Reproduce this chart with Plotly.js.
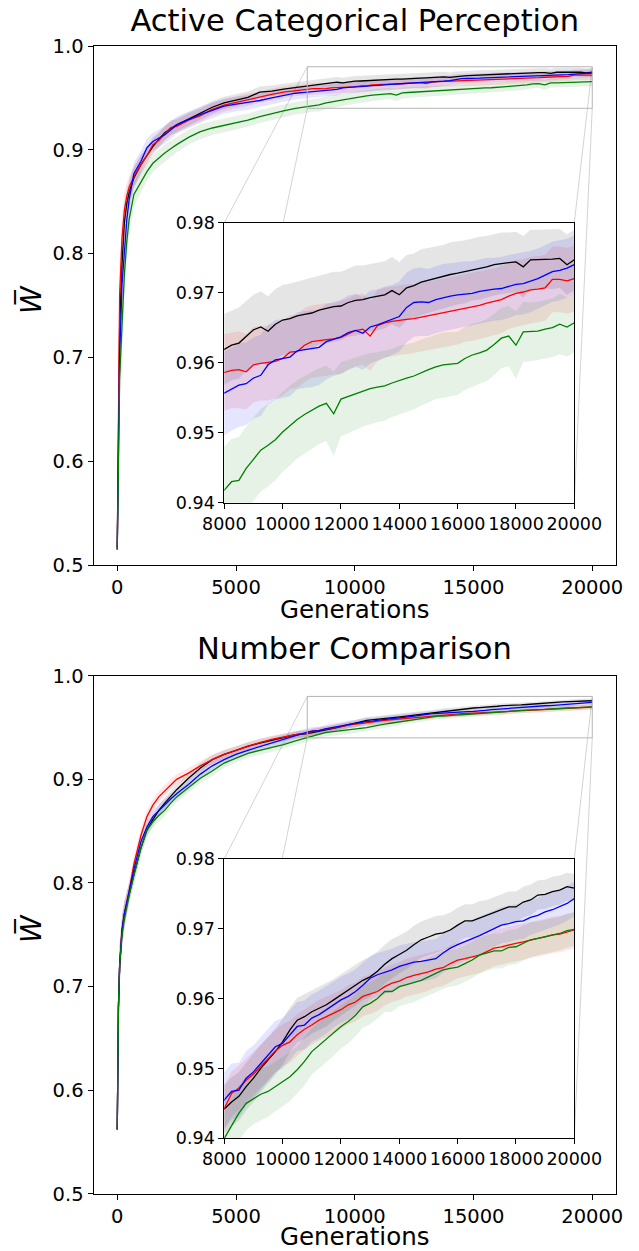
<!DOCTYPE html>
<html><head><meta charset="utf-8">
<script src="https://cdn.plot.ly/plotly-3.0.1.min.js"></script>
<style>html,body{margin:0;padding:0;background:#fff}#chart{width:639px;height:1251px}</style>
</head><body><div id="chart"></div>
<script>
// ---------- data ----------
const gens = [0,50,100,200,300,400,500,700,1000,1250,1500,1750,2000,2250,2500,3000,3500,4000,4500,5000,5500,6000,6500,7000,7500,
8000,8250,8500,8750,9000,9250,9500,9750,10000,10250,10500,10750,11000,11250,11500,11750,12000,
12250,12500,12750,13000,13250,13500,13750,14000,14250,14500,14750,15000,15250,15500,15750,16000,
16250,16500,16750,17000,17250,17500,17750,18000,18250,18500,18750,19000,19250,19500,19750,20000];

// Active Categorical Perception
const acpBlack = [0.517,0.65,0.73,0.79,0.83,0.848,0.859,0.873,0.886,0.8945,0.903,0.910,0.9165,0.9205,0.924,0.9295,0.935,0.941,0.9452,0.948,0.9505,0.9555,0.9565,0.9585,0.960,
0.9619,0.9625,0.9628,0.9638,0.9647,0.9651,0.9645,0.9655,0.9661,0.9663,0.9667,0.9669,0.9671,0.9675,0.9678,0.9680,0.9681,
0.9686,0.9689,0.9690,0.9693,0.9695,0.9697,0.9703,0.9697,0.9707,0.9710,0.9715,0.9718,0.9720,0.9723,0.9726,0.9728,
0.9730,0.9733,0.9735,0.9737,0.9740,0.9742,0.9743,0.9744,0.9737,0.9747,0.9747,0.9748,0.9748,0.9749,0.9740,0.9747];
const acpRed = [0.515,0.68,0.76,0.815,0.842,0.855,0.864,0.874,0.886,0.8945,0.905,0.909,0.915,0.9215,0.9225,0.9285,0.933,0.939,0.943,0.9458,0.948,0.951,0.9535,0.9555,0.957,
0.9586,0.9589,0.9590,0.9587,0.9597,0.9599,0.9600,0.9602,0.9606,0.9615,0.9616,0.9625,0.9630,0.9632,0.9633,0.9634,0.9636,
0.9641,0.9646,0.9648,0.9638,0.9653,0.9657,0.9659,0.9661,0.9662,0.9663,0.9665,0.9667,0.9669,0.9671,0.9673,0.9675,
0.9678,0.9680,0.9682,0.9685,0.9687,0.9690,0.9695,0.9699,0.9701,0.9704,0.9705,0.9707,0.9719,0.9719,0.9717,0.9720];
const acpBlue = [0.515,0.62,0.70,0.77,0.805,0.832,0.852,0.877,0.889,0.902,0.908,0.911,0.9145,0.919,0.924,0.929,0.934,0.938,0.942,0.944,0.9455,0.9475,0.950,0.9525,0.9545,
0.9556,0.9562,0.9568,0.9570,0.9578,0.9582,0.9597,0.9604,0.9606,0.9608,0.9617,0.9619,0.9620,0.9622,0.9630,0.9634,0.9637,
0.9643,0.9646,0.9642,0.9651,0.9654,0.9658,0.9661,0.9666,0.9679,0.9686,0.9687,0.9686,0.9690,0.9693,0.9695,0.9697,
0.9698,0.9699,0.9702,0.9704,0.9705,0.9706,0.9709,0.9712,0.9713,0.9716,0.9720,0.9725,0.9730,0.9732,0.9735,0.9740];
const acpGreen = [0.515,0.62,0.68,0.73,0.78,0.811,0.833,0.857,0.869,0.879,0.887,0.892,0.897,0.901,0.905,0.912,0.9175,0.921,0.9235,0.926,0.9285,0.932,0.935,0.9375,0.940,
0.9418,0.9430,0.9432,0.9449,0.9462,0.9475,0.9482,0.9490,0.9501,0.9510,0.9519,0.9526,0.9532,0.9538,0.9542,0.9527,0.9548,
0.9552,0.9556,0.9560,0.9563,0.9565,0.9567,0.9571,0.9575,0.9578,0.9581,0.9586,0.9590,0.9594,0.9597,0.9598,0.9599,
0.9606,0.9611,0.9614,0.9618,0.9626,0.9635,0.9638,0.9625,0.9644,0.9644,0.9645,0.9648,0.9650,0.9655,0.9651,0.9657];

const acpBlackSd = [0.004,0.03,0.03,0.025,0.018,0.014,0.012,0.01,0.009,0.008,0.0075,0.007,0.007,0.007,0.0065,0.0065,0.006,0.006,0.006,0.0058,0.0056,0.0055,0.0054,0.0052,0.0051,
0.0051,0.0050,0.0051,0.0050,0.0050,0.0051,0.0050,0.0050,0.0050,0.0050,0.0049,0.0050,0.0050,0.0049,0.0050,0.0050,0.0049,
0.0049,0.0050,0.0049,0.0048,0.0049,0.0048,0.0048,0.0047,0.0047,0.0046,0.0047,0.0046,0.0046,0.0045,0.0046,0.0045,
0.0045,0.0044,0.0045,0.0044,0.0044,0.0044,0.0043,0.0043,0.0044,0.0043,0.0043,0.0042,0.0043,0.0042,0.0043,0.0043];
const acpRedSd = [0.004,0.03,0.03,0.022,0.016,0.013,0.011,0.01,0.009,0.008,0.0075,0.007,0.007,0.007,0.0065,0.0065,0.0062,0.006,0.006,0.0058,0.0057,0.0056,0.0055,0.0055,0.0054,
0.0055,0.0054,0.0055,0.0054,0.0054,0.0053,0.0054,0.0053,0.0053,0.0053,0.0052,0.0053,0.0052,0.0052,0.0052,0.0051,0.0052,
0.0051,0.0051,0.0051,0.0050,0.0051,0.0050,0.0050,0.0050,0.0050,0.0049,0.0050,0.0049,0.0049,0.0049,0.0049,0.0049,
0.0048,0.0049,0.0048,0.0048,0.0048,0.0048,0.0047,0.0048,0.0047,0.0047,0.0047,0.0047,0.0047,0.0047,0.0047,0.0047];
const acpBlueSd = [0.004,0.035,0.035,0.03,0.022,0.017,0.014,0.011,0.01,0.009,0.0085,0.0085,0.0085,0.0085,0.008,0.008,0.0078,0.0075,0.0072,0.007,0.0068,0.0066,0.0064,0.0062,0.0061,
0.0060,0.0059,0.0060,0.0059,0.0058,0.0058,0.0057,0.0057,0.0056,0.0056,0.0055,0.0055,0.0055,0.0054,0.0054,0.0053,0.0053,
0.0053,0.0052,0.0052,0.0052,0.0051,0.0051,0.0050,0.0050,0.0050,0.0049,0.0049,0.0048,0.0048,0.0048,0.0047,0.0047,
0.0047,0.0046,0.0046,0.0046,0.0045,0.0045,0.0045,0.0044,0.0044,0.0044,0.0043,0.0043,0.0043,0.0043,0.0042,0.0042];
const acpGreenSd = [0.004,0.03,0.03,0.028,0.022,0.018,0.015,0.012,0.01,0.009,0.0085,0.008,0.008,0.0078,0.0075,0.0072,0.007,0.0068,0.0066,0.0065,0.0064,0.0063,0.0062,0.0061,0.006,
0.0062,0.0061,0.0062,0.0060,0.0060,0.0059,0.0059,0.0058,0.0057,0.0057,0.0056,0.0055,0.0055,0.0054,0.0054,0.0060,0.0053,
0.0052,0.0052,0.0051,0.0051,0.0050,0.0050,0.0049,0.0049,0.0048,0.0048,0.0047,0.0047,0.0046,0.0046,0.0046,0.0045,
0.0045,0.0045,0.0044,0.0044,0.0044,0.0043,0.0043,0.0048,0.0043,0.0042,0.0042,0.0042,0.0042,0.0043,0.0042,0.0042];

// Number Comparison
const ncBlack = [0.562,0.68,0.72,0.752,0.77,0.78,0.79,0.808,0.834,0.851,0.861,0.870,0.877,0.884,0.890,0.901,0.911,0.919,0.924,0.928,0.932,0.935,0.9375,0.9405,0.943,
0.9442,0.9452,0.9460,0.9474,0.9486,0.9500,0.9512,0.9524,0.9538,0.9555,0.9569,0.9574,0.9581,0.9586,0.9591,0.9598,0.9605,
0.9612,0.9619,0.9626,0.9631,0.9639,0.9649,0.9657,0.9663,0.9669,0.9677,0.9684,0.9688,0.9692,0.9694,0.9698,0.9705,
0.9711,0.9711,0.9715,0.9718,0.9722,0.9727,0.9731,0.9731,0.9738,0.9741,0.9748,0.9749,0.9753,0.9755,0.9760,0.9758];
const ncRed = [0.562,0.68,0.72,0.755,0.77,0.781,0.792,0.818,0.846,0.864,0.875,0.883,0.889,0.895,0.900,0.906,0.913,0.919,0.924,0.928,0.932,0.9354,0.9385,0.941,0.943,
0.9443,0.9464,0.9472,0.9483,0.9492,0.9503,0.9514,0.9525,0.9533,0.9538,0.9548,0.9556,0.9562,0.9569,0.9574,0.9579,0.9584,
0.9591,0.9595,0.9603,0.9606,0.9610,0.9617,0.9622,0.9625,0.9630,0.9633,0.9635,0.9638,0.9642,0.9644,0.9650,0.9655,
0.9657,0.9660,0.9662,0.9667,0.9672,0.9674,0.9677,0.9679,0.9681,0.9684,0.9686,0.9688,0.9691,0.9692,0.9695,0.9698];
const ncBlue = [0.562,0.68,0.72,0.755,0.77,0.781,0.792,0.813,0.840,0.854,0.864,0.870,0.875,0.881,0.886,0.895,0.905,0.913,0.919,0.924,0.928,0.9315,0.935,0.9385,0.9425,
0.9455,0.9467,0.9469,0.9486,0.9495,0.9507,0.9519,0.9531,0.9536,0.9548,0.9560,0.9562,0.9572,0.9577,0.9584,0.9592,0.9598,
0.9603,0.9610,0.9619,0.9629,0.9634,0.9637,0.9641,0.9646,0.9649,0.9652,0.9653,0.9655,0.9657,0.9665,0.9672,0.9677,
0.9681,0.9686,0.9690,0.9695,0.9700,0.9705,0.9707,0.9710,0.9711,0.9716,0.9719,0.9724,0.9727,0.9731,0.9736,0.9743];
const ncGreen = [0.562,0.68,0.72,0.75,0.765,0.777,0.788,0.807,0.834,0.851,0.859,0.865,0.870,0.877,0.883,0.892,0.901,0.908,0.9157,0.9205,0.925,0.928,0.9305,0.9335,0.937,
0.9400,0.9419,0.9436,0.9450,0.9457,0.9463,0.9467,0.9474,0.9481,0.9488,0.9498,0.9510,0.9524,0.9533,0.9541,0.9550,0.9560,
0.9567,0.9576,0.9588,0.9593,0.9600,0.9610,0.9610,0.9617,0.9620,0.9623,0.9626,0.9631,0.9636,0.9641,0.9643,0.9645,
0.9650,0.9655,0.9662,0.9665,0.9668,0.9668,0.9673,0.9674,0.9679,0.9684,0.9686,0.9688,0.9690,0.9693,0.9697,0.9699];

const ncBlackSd = [0.003,0.02,0.02,0.015,0.012,0.01,0.009,0.008,0.007,0.006,0.006,0.0055,0.0055,0.005,0.005,0.0048,0.0046,0.0044,0.0042,0.004,0.004,0.0038,0.0037,0.0036,0.0035,
0.0035,0.0035,0.0035,0.0034,0.0034,0.0034,0.0033,0.0033,0.0033,0.0032,0.0032,0.0032,0.0031,0.0031,0.0031,0.0030,0.0030,
0.0030,0.0029,0.0029,0.0029,0.0028,0.0028,0.0028,0.0027,0.0027,0.0027,0.0026,0.0026,0.0026,0.0025,0.0025,0.0025,
0.0024,0.0024,0.0024,0.0023,0.0023,0.0023,0.0022,0.0022,0.0022,0.0022,0.0021,0.0021,0.0021,0.0021,0.0020,0.0020];
const ncRedSd = [0.003,0.02,0.02,0.015,0.012,0.01,0.009,0.008,0.007,0.006,0.006,0.0055,0.0055,0.005,0.005,0.0048,0.0046,0.0044,0.0042,0.004,0.004,0.0038,0.0036,0.0034,0.0033,
0.0032,0.0032,0.0032,0.0031,0.0031,0.0031,0.0031,0.0030,0.0030,0.0030,0.0030,0.0029,0.0029,0.0029,0.0029,0.0029,0.0028,
0.0028,0.0028,0.0028,0.0028,0.0028,0.0027,0.0027,0.0027,0.0027,0.0027,0.0027,0.0027,0.0026,0.0026,0.0026,0.0026,
0.0026,0.0026,0.0026,0.0026,0.0026,0.0026,0.0026,0.0026,0.0026,0.0026,0.0026,0.0026,0.0026,0.0026,0.0026,0.0026];
const ncBlueSd = [0.003,0.02,0.02,0.015,0.012,0.01,0.009,0.008,0.007,0.0062,0.006,0.0057,0.0056,0.0053,0.0052,0.005,0.0049,0.0047,0.0045,0.0044,0.0043,0.0042,0.0041,0.0041,0.0040,
0.0040,0.0040,0.0039,0.0039,0.0038,0.0038,0.0037,0.0037,0.0036,0.0036,0.0035,0.0035,0.0034,0.0034,0.0034,0.0033,0.0033,
0.0033,0.0032,0.0032,0.0031,0.0031,0.0031,0.0030,0.0030,0.0030,0.0029,0.0029,0.0029,0.0028,0.0028,0.0028,0.0028,
0.0027,0.0027,0.0027,0.0027,0.0026,0.0026,0.0026,0.0026,0.0026,0.0025,0.0025,0.0025,0.0025,0.0025,0.0025,0.0025];
const ncGreenSd = [0.003,0.02,0.02,0.015,0.012,0.01,0.009,0.008,0.007,0.0062,0.006,0.0057,0.0056,0.0053,0.0052,0.005,0.0049,0.0047,0.0045,0.0044,0.0043,0.0042,0.0041,0.0041,0.0040,
0.0040,0.0039,0.0039,0.0038,0.0037,0.0037,0.0036,0.0036,0.0035,0.0035,0.0034,0.0034,0.0033,0.0033,0.0032,0.0032,0.0031,
0.0031,0.0030,0.0030,0.0030,0.0029,0.0029,0.0029,0.0028,0.0028,0.0028,0.0027,0.0027,0.0027,0.0027,0.0026,0.0026,
0.0026,0.0026,0.0026,0.0025,0.0025,0.0025,0.0025,0.0025,0.0025,0.0025,0.0024,0.0024,0.0024,0.0024,0.0024,0.0024];

const mainXTicks = [0, 5000, 10000, 15000, 20000];
const mainXRange = [-1000, 21000];
const mainYRange = [0.5, 1.0];
const insetXRange = [8000, 20000];
const insetYRange = [0.94, 0.98];
const chartTitles = ['Active Categorical Perception', 'Number Comparison'];
const xLabel = 'Generations';
const yLabel = '<i>W\u0305</i>';

// ---------- styling ----------
const FONT = 'DejaVu Sans, Verdana, sans-serif';
const PW = 639, PH = 1251;
const seriesStyle = [
  {color: '#000000', rgb: '0,0,0'},
  {color: '#ff0000', rgb: '255,0,0'},
  {color: '#0000ff', rgb: '0,0,255'},
  {color: '#008000', rgb: '0,128,0'}
];
const charts = [
  {means: [acpBlack, acpRed, acpBlue, acpGreen], sds: [acpBlackSd, acpRedSd, acpBlueSd, acpGreenSd],
   main: ['x', 'y'], inset: ['x2', 'y2'], xLabelY: 610, yLabelY: 300, titleY: 20,
   mainY: [1 - 565/PH, 1 - 46/PH], insetY: [1 - 502.7/PH, 1 - 222.7/PH]},
  {means: [ncBlack, ncRed, ncBlue, ncGreen], sds: [ncBlackSd, ncRedSd, ncBlueSd, ncGreenSd],
   main: ['x3', 'y3'], inset: ['x4', 'y4'], xLabelY: 1236.5, yLabelY: 929, titleY: 648,
   mainY: [1 - 1193.7/PH, 1 - 675.7/PH], insetY: [1 - 1138.3/PH, 1 - 858.7/PH]}
];
const mainXDomain = [93.5/PW, 616/PW];
const insetXDomain = [224.3/PW, 574.3/PW];
const centerX = (mainXDomain[0] + mainXDomain[1]) / 2;

const traces = [];
charts.forEach(ch => {
  [ch.main, ch.inset].forEach(([xa, ya]) => {
    ch.means.forEach((m, i) => {
      const sd = ch.sds[i];
      const up = m.map((v, k) => v + sd[k]);
      const lo = m.map((v, k) => v - sd[k]);
      traces.push({
        type: 'scatter', mode: 'lines', xaxis: xa, yaxis: ya,
        x: gens.concat(gens.slice().reverse()),
        y: up.concat(lo.slice().reverse()),
        fill: 'toself', fillcolor: 'rgba(' + seriesStyle[i].rgb + ',0.1)',
        line: {width: 0}, hoverinfo: 'skip', showlegend: false
      });
    });
    ch.means.forEach((m, i) => {
      traces.push({
        type: 'scatter', mode: 'lines', xaxis: xa, yaxis: ya,
        x: gens, y: m, line: {color: seriesStyle[i].color, width: 1.3},
        showlegend: false
      });
    });
  });
});

function axisBase(extra) {
  return Object.assign({
    showline: true, mirror: true, linecolor: '#000', linewidth: 1,
    ticks: 'outside', ticklen: 5, tickwidth: 1, tickcolor: '#000',
    showgrid: false, zeroline: false, fixedrange: true
  }, extra);
}

const layout = {
  width: PW, height: PH, autosize: false,
  margin: {l: 0, r: 0, t: 0, b: 0, pad: 0},
  paper_bgcolor: '#ffffff', plot_bgcolor: '#ffffff',
  font: {family: FONT, color: '#000'},
  showlegend: false,
  title: {text: chartTitles[0], font: {family: FONT, size: 30.5, color: '#000'},
          x: centerX, xanchor: 'center', xref: 'paper',
          y: 1 - charts[0].titleY/PH, yanchor: 'middle', yref: 'container'},
  annotations: [],
  shapes: []
};

charts.forEach((ch, ci) => {
  const xmKey = ch.main[0] === 'x' ? 'xaxis' : 'xaxis' + ch.main[0].slice(1);
  const ymKey = ch.main[1] === 'y' ? 'yaxis' : 'yaxis' + ch.main[1].slice(1);
  const xi = 'xaxis' + ch.inset[0].slice(1), yi = 'yaxis' + ch.inset[1].slice(1);
  layout[xmKey] = axisBase({domain: mainXDomain, anchor: ch.main[1], range: mainXRange,
    tickmode: 'array', tickvals: mainXTicks, tickformat: 'd',
    tickfont: {size: 19.5, family: FONT}});
  layout[ymKey] = axisBase({domain: ch.mainY, anchor: ch.main[0], range: mainYRange,
    dtick: 0.1, tick0: 0.5, tickformat: '.1f',
    tickfont: {size: 19.5, family: FONT}});
  layout[xi] = axisBase({domain: insetXDomain, anchor: ch.inset[1], range: insetXRange,
    dtick: 2000, tick0: 8000, tickformat: 'd', tickfont: {size: 17.5, family: FONT}});
  layout[yi] = axisBase({domain: ch.insetY, anchor: ch.inset[0], range: insetYRange,
    dtick: 0.01, tick0: 0.94, tickformat: '.2f', tickfont: {size: 17.5, family: FONT}});

  // axis titles
  layout.annotations.push({text: xLabel, xref: 'paper', yref: 'paper',
    x: centerX, xanchor: 'center', y: 1 - ch.xLabelY/PH, yanchor: 'middle', borderpad: 0,
    showarrow: false, font: {family: FONT, size: 24.5, color: '#000'}});
  layout.annotations.push({text: yLabel, xref: 'paper', yref: 'paper',
    x: 31/PW, xanchor: 'center', y: 1 - ch.yLabelY/PH, yanchor: 'middle', textangle: -90,
    showarrow: false, font: {family: FONT, size: 28, color: '#000'}});
  if (ci > 0) {
    layout.annotations.push({text: chartTitles[ci], xref: 'paper', yref: 'paper',
      x: centerX, xanchor: 'center', y: 1 - ch.titleY/PH, yanchor: 'middle', showarrow: false,
      font: {family: FONT, size: 30.5, color: '#000'}});
  }

  // zoom rectangle on the main axes
  layout.shapes.push({type: 'rect', xref: ch.main[0], yref: ch.main[1], layer: 'above',
    x0: insetXRange[0], x1: insetXRange[1], y0: insetYRange[0], y1: insetYRange[1],
    line: {color: '#b4b4b4', width: 1}, fillcolor: 'rgba(0,0,0,0)'});
  // connectors from rectangle corners to inset corners
  const px = v => mainXDomain[0] + (v - mainXRange[0]) / (mainXRange[1] - mainXRange[0]) * (mainXDomain[1] - mainXDomain[0]);
  const py = v => ch.mainY[0] + (v - mainYRange[0]) / (mainYRange[1] - mainYRange[0]) * (ch.mainY[1] - ch.mainY[0]);
  const corners = [[0, 1], [0, 0], [1, 1], [1, 0]];
  corners.forEach(([cx, cy]) => {
    layout.shapes.push({type: 'line', xref: 'paper', yref: 'paper', layer: 'below',
      x0: px(insetXRange[cx]), y0: py(insetYRange[cy]),
      x1: insetXDomain[cx], y1: ch.insetY[cy],
      line: {color: '#d4d4d4', width: 1}});
  });
});

Plotly.newPlot('chart', traces, layout, {staticPlot: true, displayModeBar: false});
</script>
</body></html>
